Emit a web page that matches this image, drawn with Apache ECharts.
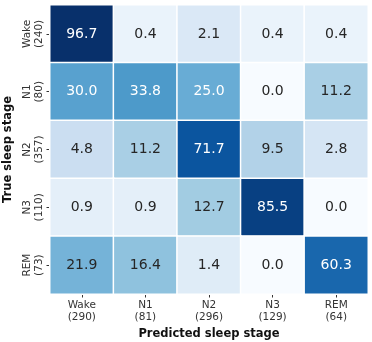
<!DOCTYPE html>
<html>
<head>
<meta charset="utf-8">
<script src="https://cdn.jsdelivr.net/npm/echarts@6/dist/echarts.min.js"></script>
<style>html,body{margin:0;padding:0;background:#fff}#c{width:372px;height:342px}</style>
</head>
<body>
<div id="c"></div>
<script>
// Data
const predictedLabels = ['Wake', 'N1', 'N2', 'N3', 'REM'];
const predictedCounts = [290, 81, 296, 129, 64];
const trueLabels = ['Wake', 'N1', 'N2', 'N3', 'REM'];
const trueCounts = [240, 80, 357, 110, 73];
// rows = true stage, columns = predicted stage (percent)
const rowWake = [96.7, 0.4, 2.1, 0.4, 0.4];
const rowN1   = [30.0, 33.8, 25.0, 0.0, 11.2];
const rowN2   = [4.8, 11.2, 71.7, 9.5, 2.8];
const rowN3   = [0.9, 0.9, 12.7, 85.5, 0.0];
const rowREM  = [21.9, 16.4, 1.4, 0.0, 60.3];
const rows = [rowWake, rowN1, rowN2, rowN3, rowREM];

const blues = ['#f7fbff','#deebf7','#c6dbef','#9ecae1','#6baed6','#4292c6','#2171b5','#08519c','#08306b'];
const vmax = Math.max(...rows.flat());

const data = [];
rows.forEach((r, i) => r.forEach((v, j) => {
  const n = Math.sqrt(v / vmax);
  data.push({
    value: [j, i, v, n],
    label: { color: n > 0.5 ? '#ffffff' : '#262626' }
  });
}));

const chart = echarts.init(document.getElementById('c'), null, { renderer: 'canvas' });
const FONT = 'DejaVu Sans';
chart.setOption({
  animation: false,
  textStyle: { fontFamily: FONT },
  grid: { left: 50, right: 4, top: 5, bottom: 48, containLabel: false, outerBoundsMode: 'none' },
  xAxis: {
    type: 'category',
    data: predictedLabels.map((l, i) => l + '\n(' + predictedCounts[i] + ')'),
    name: 'Predicted sleep stage',
    nameLocation: 'middle',
    nameGap: 32,
    nameTextStyle: { fontFamily: FONT, fontWeight: 'bold', fontSize: 11.5, color: '#111' },
    axisLine: { show: false },
    axisTick: { show: true, alignWithLabel: true, length: 3.5, lineStyle: { color: '#333' } },
    axisLabel: { fontFamily: FONT, fontSize: 10.5, color: '#333', lineHeight: 11.5, margin: 6 },
    splitLine: { show: false }
  },
  yAxis: {
    type: 'category',
    inverse: true,
    data: trueLabels.map((l, i) => l + '\n(' + trueCounts[i] + ')'),
    name: 'True sleep stage',
    nameLocation: 'middle',
    nameGap: 36,
    nameRotate: 90,
    nameTextStyle: { fontFamily: FONT, fontWeight: 'bold', fontSize: 11.5, color: '#111' },
    axisLine: { show: false },
    axisTick: { show: true, alignWithLabel: true, length: 3.5, lineStyle: { color: '#333' } },
    axisLabel: { fontFamily: FONT, fontSize: 10.5, color: '#333', lineHeight: 11.5, margin: 5, rotate: 90, align: 'center', verticalAlign: 'bottom' },
    splitLine: { show: false }
  },
  visualMap: {
    show: false,
    type: 'continuous',
    dimension: 3,
    min: 0,
    max: 1,
    inRange: { color: blues }
  },
  series: [{
    type: 'heatmap',
    data: data,
    label: {
      show: true,
      fontFamily: FONT,
      fontSize: 14,
      formatter: p => p.value[2].toFixed(1)
    },
    itemStyle: { borderColor: '#ffffff', borderWidth: 1.5 },
    emphasis: { disabled: true }
  }]
});
</script>
</body>
</html>
